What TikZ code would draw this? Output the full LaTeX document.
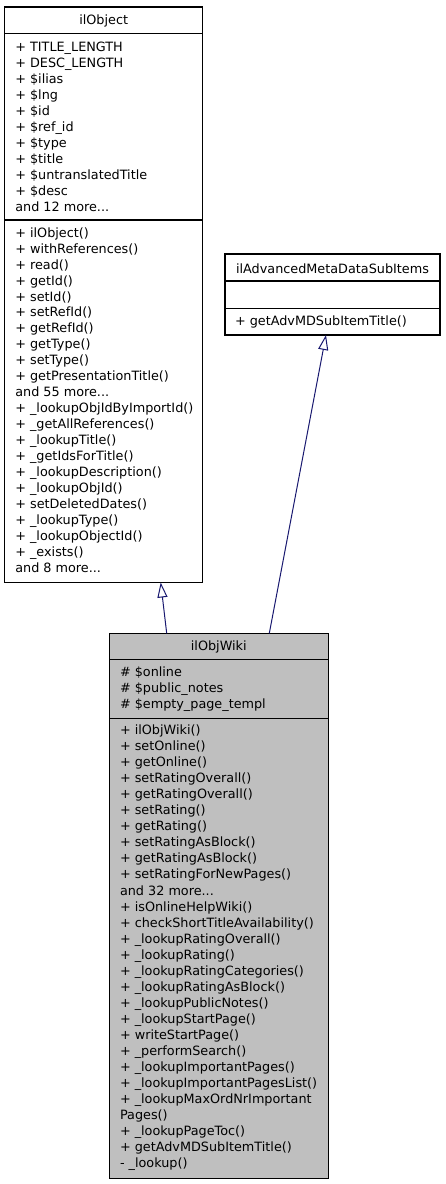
\documentclass[tikz,border=0pt]{standalone}
\usepackage{fontspec}
\setmainfont{DejaVu Sans}
\usetikzlibrary{arrows.meta}
\definecolor{edgeblue}{RGB}{25,25,112}
\definecolor{wikigray}{RGB}{191,191,191}
\newcommand\mydots{...}
\begin{document}
\begin{tikzpicture}[x=1pt,y=-1pt,
  every node/.style={font=\fontsize{12.8}{16}\selectfont},
  txt/.style={inner sep=0pt, outer sep=0pt, anchor=base west},
  ttl/.style={inner sep=0pt, outer sep=0pt, anchor=base},
  classbox/.style={draw=black, line width=1.1pt, inner sep=0pt, outer sep=0pt, anchor=north west},
  divider/.style={draw=black, line width=1.1pt},
  inherit/.style={draw=edgeblue, line width=1pt, -{Triangle[open, length=15pt, width=10pt]}}]
\fill[white] (0,0) rectangle (445,1184);
\useasboundingbox (0,0) rectangle (445,1184);

% ilObject
\node[classbox, minimum width=198pt, minimum height=575.5pt] (obj) at (4.7,7) {};
\draw[divider] (4.7,33.3) -- (202.7,33.3);
\draw[divider] (4.7,220) -- (202.7,220);
\node[ttl] (objtitle) at (103.7,24.5) {ilObject};
\foreach \t [count=\i from 0] in {{+ TITLE\_LENGTH},{+ DESC\_LENGTH},{+ \$ilias},{+ \$lng},{+ \$id},{+ \$ref\_id},{+ \$type},{+ \$title},{+ \$untranslatedTitle},{+ \$desc},{and 12 more\mydots}}
  \node[txt] (oa\i) at (15.3,51.2+16*\i) {\t};
\foreach \t [count=\i from 0] in {{+ ilObject()},{+ withReferences()},{+ read()},{+ getId()},{+ setId()},{+ setRefId()},{+ getRefId()},{+ getType()},{+ setType()},{+ getPresentationTitle()},{and 55 more\mydots},{+ \_lookupObjIdByImportId()},{+ \_getAllReferences()},{+ \_lookupTitle()},{+ \_getIdsForTitle()},{+ \_lookupDescription()},{+ \_lookupObjId()},{+ setDeletedDates()},{+ \_lookupType()},{+ \_lookupObjectId()},{+ \_exists()},{and 8 more\mydots}}
  \node[txt] (om\i) at (15.3,237.2+15.95*\i) {\t};

% ilAdvancedMetaDataSubItems
\node[classbox, minimum width=215pt, minimum height=81pt] (adv) at (225,254) {};
\draw[divider] (225,281) -- (440,281);
\draw[divider] (225,308.3) -- (440,308.3);
\node[ttl] (advtitle) at (332.5,273.8) {ilAdvancedMetaDataSubItems};
\node[txt] (advm) at (235,325.5) {+ getAdvMDSubItemTitle()};

% ilObjWiki
\node[classbox, fill=wikigray, minimum width=219pt, minimum height=545pt] (wiki) at (109.3,633.3) {};
\draw[divider] (109.3,659.3) -- (328.3,659.3);
\draw[divider] (109.3,718.7) -- (328.3,718.7);
\node[ttl] (wikititle) at (218.8,650.5) {ilObjWiki};
\foreach \t [count=\i from 0] in {{\# \$online},{\# \$public\_notes},{\# \$empty\_page\_templ}}
  \node[txt] (wa\i) at (120,676.8+16*\i) {\t};
\foreach \t [count=\i from 0] in {{+ ilObjWiki()},{+ setOnline()},{+ getOnline()},{+ setRatingOverall()},{+ getRatingOverall()},{+ setRating()},{+ getRating()},{+ setRatingAsBlock()},{+ getRatingAsBlock()},{+ setRatingForNewPages()},{and 32 more\mydots},{+ isOnlineHelpWiki()},{+ checkShortTitleAvailability()},{+ \_lookupRatingOverall()},{+ \_lookupRating()},{+ \_lookupRatingCategories()},{+ \_lookupRatingAsBlock()},{+ \_lookupPublicNotes()},{+ \_lookupStartPage()},{+ writeStartPage()},{+ \_performSearch()},{+ \_lookupImportantPages()},{+ \_lookupImportantPagesList()},{+ \_lookupMaxOrdNrImportant},{Pages()},{+ \_lookupPageToc()},{+ getAdvMDSubItemTitle()},{- \_lookup()}}
  \node[txt] (wm\i) at (120,734.5+16.05*\i) {\t};

% connectors
\coordinate (objB) at (160.7,582.5);
\coordinate (advB) at (326,335);
\coordinate (wikiL) at (166.7,633.3);
\coordinate (wikiR) at (269.3,633.3);
\draw[inherit] (wikiL) -- (objB);
\draw[inherit] (wikiR) -- (advB);
\end{tikzpicture}
\end{document}
